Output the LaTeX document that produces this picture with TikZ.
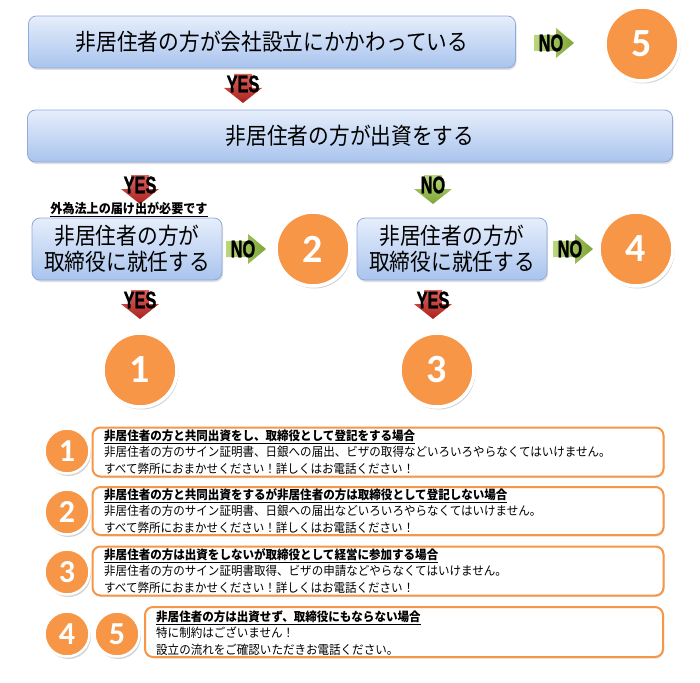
\documentclass[tikz,border=0pt]{standalone}
\usepackage{fontspec}
\setmainfont{Noto Sans CJK JP}
\newfontfamily\jpA{Noto Sans CJK JP}[FakeStretch=0.9]
\newfontfamily\jpB{Noto Sans CJK JP}[FakeStretch=0.93]
\newfontfamily\ynfont{Liberation Sans}[FakeStretch=0.68, FakeBold=1.2]
\newfontfamily\numfont{Carlito}
\usetikzlibrary{shadows}
\definecolor{orng}{HTML}{F79646}
\definecolor{boxtop}{HTML}{E6EEFB}
\definecolor{boxbot}{HTML}{A9C4EE}
\definecolor{boxedge}{HTML}{8FAADC}
\definecolor{redA}{HTML}{E0605A}
\definecolor{redB}{HTML}{A8231F}
\definecolor{grnA}{HTML}{BBD77C}
\definecolor{grnB}{HTML}{7EA637}
\tikzset{
  qbox/.style={draw=boxedge, line width=0.8pt, rounded corners=8pt,
    top color=boxtop, bottom color=boxbot, inner sep=0pt, align=center,
    drop shadow={shadow xshift=1pt, shadow yshift=-2pt, opacity=0.25},
    font=\jpA\fontsize{23}{26}\selectfont},
  bignum/.style={circle, fill=orng, draw=white, line width=3.5pt, minimum size=74pt,
    inner sep=0pt, text=white, font=\numfont\bfseries\fontsize{40}{40}\selectfont,
    drop shadow={shadow xshift=1.5pt, shadow yshift=-2.5pt, opacity=0.35}},
  smallnum/.style={bignum, minimum size=45pt, line width=2.5pt,
    font=\numfont\bfseries\fontsize{32}{32}\selectfont},
  infobox/.style={draw=orng, line width=2pt, rounded corners=8pt, fill=white,
    drop shadow={shadow xshift=1pt, shadow yshift=-1.5pt, opacity=0.2}},
  infotext/.style={anchor=west, align=left, inner sep=0pt,
    font=\jpB\fontsize{12.4}{16.3}\selectfont},
  ynlab/.style={inner sep=0pt, font=\ynfont\bfseries\fontsize{24}{24}\selectfont},
  pics/yesarr/.style={code={
    \path[top color=redA, bottom color=redB]
      (-9,-14) -- (9,-14) -- (9,0) -- (19,0) -- (0,15) -- (-19,0) -- (-9,0) -- cycle;
    \node[ynlab] (-lab) at (0,-4) {YES};}},
  pics/nodown/.style={code={
    \path[top color=grnA, bottom color=grnB]
      (-9,-14) -- (9,-14) -- (9,0) -- (19,0) -- (0,15) -- (-19,0) -- (-9,0) -- cycle;
    \node[ynlab] (-lab) at (0,-4) {NO};}},
  pics/noright/.style={code={
    \path[left color=grnA, right color=grnB]
      (-20,-8) -- (2,-8) -- (2,-15) -- (20,0) -- (2,15) -- (2,8) -- (-20,8) -- cycle;
    \node[ynlab] (-lab) at (-3,0) {NO};}},
}
\begin{document}
\begin{tikzpicture}[x=1pt, y=-1pt]
\useasboundingbox (0,0) rectangle (700,682);

% top flow
\node[qbox, minimum width=487pt, minimum height=52pt] (q1) at (272,42) {非居住者の方が会社設立にかかわっている};
\pic (a1) at (554,43) {noright};
\node[bignum] (c5) at (642,44) {5};
\pic (a2) at (243,88) {yesarr};
\node[qbox, minimum width=645pt, minimum height=52pt] (q2) at (350,136) {非居住者の方が出資をする};

\pic (a3) at (140,189) {yesarr};
\pic (a4) at (433,189) {nodown};
\node[inner sep=0pt, font=\jpB\bfseries\fontsize{13}{13}\selectfont] (note) at (129,209) {\underline{外為法上の届け出が必要です}};

\node[qbox, minimum width=190pt, minimum height=62pt] (q3) at (127,249) {非居住者の方が\\取締役に就任する};
\pic (a5) at (246,249) {noright};
\node[bignum] (c2) at (313,249) {2};
\node[qbox, minimum width=190pt, minimum height=62pt] (q4) at (452,249) {非居住者の方が\\取締役に就任する};
\pic (a6) at (573,249) {noright};
\node[bignum] (c4) at (636,249) {4};

\pic (a7) at (140,304) {yesarr};
\pic (a8) at (433,304) {yesarr};
\node[bignum] (c1) at (140,370) {1};
\node[bignum] (c3) at (437,370) {3};

% legend
\node[infobox, minimum width=571pt, minimum height=49pt] (b1) at (378,452) {};
\node[infotext] (t1) at (104,452) {\textbf{\underline{非居住者の方と共同出資をし、取締役として登記をする場合}}\\非居住者の方のサイン証明書、日銀への届出、ビザの取得などいろいろやらなくてはいけません。\\すべて弊所におまかせください！詳しくはお電話ください！};
\node[smallnum] (s1) at (67,451) {1};

\node[infobox, minimum width=571pt, minimum height=48pt] (b2) at (378,511) {};
\node[infotext] (t2) at (104,511) {\textbf{\underline{非居住者の方と共同出資をするが非居住者の方は取締役として登記しない場合}}\\非居住者の方のサイン証明書、日銀への届出などいろいろやらなくてはいけません。\\すべて弊所におまかせください！詳しくはお電話ください！};
\node[smallnum] (s2) at (67,512) {2};

\node[infobox, minimum width=571pt, minimum height=49pt] (b3) at (378,571) {};
\node[infotext] (t3) at (104,571) {\textbf{\underline{非居住者の方は出資をしないが取締役として経営に参加する場合}}\\非居住者の方のサイン証明書取得、ビザの申請などやらなくてはいけません。\\すべて弊所におまかせください！詳しくはお電話ください！};
\node[smallnum] (s3) at (67,572) {3};

\node[infobox, minimum width=518pt, minimum height=50pt] (b4) at (404,632) {};
\node[infotext] (t4) at (156,633) {\textbf{\underline{非居住者の方は出資せず、取締役にもならない場合}}\\特に制約はございません！\\設立の流れをご確認いただきお電話ください。};
\node[smallnum] (s4) at (67,634) {4};
\node[smallnum] (s5) at (117,634) {5};
\end{tikzpicture}
\end{document}
